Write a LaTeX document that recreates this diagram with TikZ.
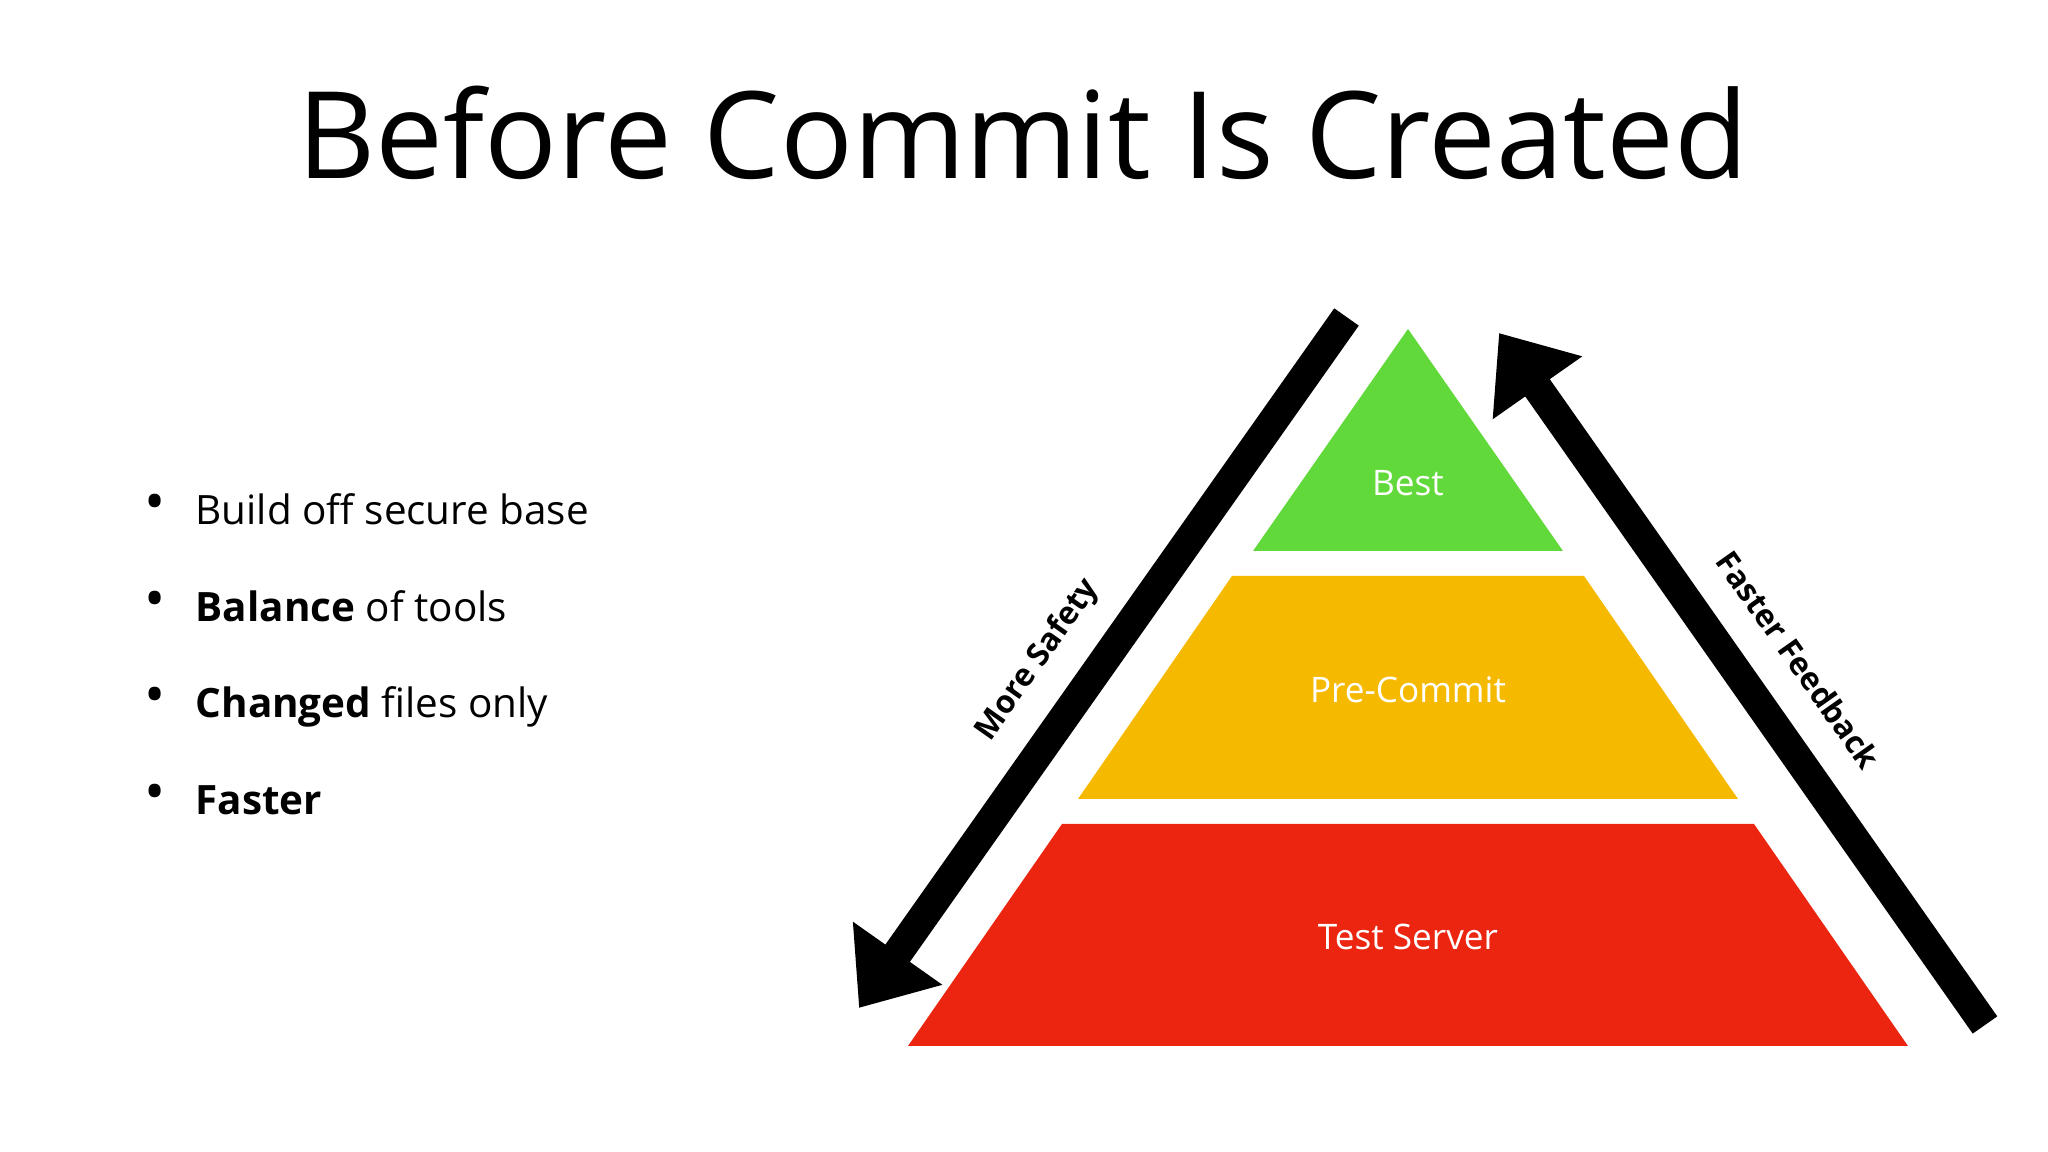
\documentclass[tikz,border=0pt]{standalone}
\usepackage{fontspec}
\setmainfont{Open Sans}
\usepackage{xcolor}
\definecolor{best}{HTML}{62D93A}
\definecolor{precommit}{HTML}{F5BA00}
\definecolor{server}{HTML}{EB2510}
\usepackage{tikz}
\usetikzlibrary{arrows.meta,calc}

\begin{document}
\begin{tikzpicture}
  \useasboundingbox (0,0) rectangle (20.48,11.52);
  \tikzset{
    tierlabel/.style={font=\fontsize{10}{12}\selectfont, text=white},
    bulletline/.style={anchor=base west, inner sep=0pt, font=\fontsize{11.5}{14}\selectfont},
    bigarrow/.style={line width=3mm, -{Triangle[length=6.7mm, width=10.5mm]}},
    arrowlabel/.style={font=\bfseries\fontsize{9}{11}\selectfont}
  }
  \newcommand{\dotitem}{\llap{\makebox[0.82cm][c]{\raisebox{0.03cm}{\fontsize{16}{16}\selectfont\textbullet}}}}
  \node[font=\fontsize{34.4}{40}\selectfont, anchor=base] (title) at (10.23,9.73)
       {Before Commit Is Created};
  % bullet list
  \node[bulletline] (b1) at (1.95,6.27) {\dotitem Build off secure base};
  \node[bulletline] (b2) at (1.95,5.30) {\dotitem\textbf{Balance} of tools};
  \node[bulletline] (b3) at (1.95,4.34) {\dotitem\textbf{Changed} files only};
  \node[bulletline] (b4) at (1.95,3.37) {\dotitem\textbf{Faster}};
  % pyramid
  \fill[best]      (14.08,8.23) -- (15.63,6.01) -- (12.53,6.01) -- cycle;
  \fill[precommit] (12.32,5.76) -- (15.84,5.76) -- (17.38,3.53) -- (10.78,3.53) -- cycle;
  \fill[server]    (10.62,3.28) -- (17.54,3.28) -- (19.08,1.06) -- (9.08,1.06) -- cycle;
  \node[tierlabel] (best) at (14.08,6.69) {Best};
  \node[tierlabel] (pre) at (14.08,4.62) {Pre-Commit};
  \node[tierlabel] (test) at (14.08,2.155) {Test Server};
  % side arrows
  \coordinate (safetystart) at (13.465,8.35);
  \coordinate (safetytip) at (8.59,1.44);
  \coordinate (feedstart) at (19.85,1.27);
  \coordinate (feedtip) at (14.99,8.19);
  \draw[bigarrow] (safetystart) -- (safetytip);
  \draw[bigarrow] (feedstart) -- (feedtip);
  \node[arrowlabel, rotate=54.8] (safety) at (10.38,4.92) {More Safety};
  \node[arrowlabel, rotate=-54.8] (feedback) at (17.985,4.92) {Faster Feedback};
\end{tikzpicture}
\end{document}
